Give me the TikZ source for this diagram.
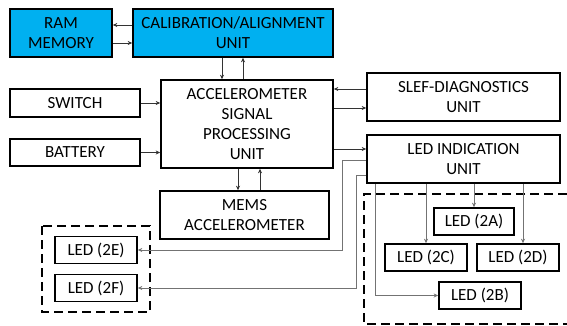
\documentclass[tikz,border=0pt]{standalone}
\usepackage{fontspec}
\setmainfont{Carlito}
\usetikzlibrary{arrows.meta}
\definecolor{calblue}{RGB}{0,176,240}
\tikzset {
  >={Stealth[length=4.5pt,width=4pt]},
  every node/.style={font=\fontsize{17}{20.2}\selectfont},
  blk/.style={draw,line width=1.6pt,align=center,inner sep=0pt},
  ledbox/.style={blk,minimum width=82pt,minimum height=27pt},
  wire/.style={line width=0.7pt,black!80},
  ledwire/.style={line width=0.7pt,black!55},
  group/.style={line width=1.6pt,dash pattern=on 9pt off 5pt},
}

\begin{document}
\begin{tikzpicture}[x=1pt,y=-1pt]
  \useasboundingbox (0,0) rectangle (567,326);
  % blocks
  \node[blk,fill=calblue,minimum width=102pt,minimum height=48pt] (ram) at (61,33) {RAM\\MEMORY};
  \node[blk,fill=calblue,minimum width=200pt,minimum height=48pt] (cal) at (233,33) {CALIBRATION/ALIGNMENT\\UNIT};
  \node[blk,minimum width=172pt,minimum height=88pt] (acc) at (247,124) {ACCELEROMETER\\SIGNAL\\PROCESSING\\UNIT};
  \node[blk,minimum width=130pt,minimum height=28pt] (sw) at (75,103) {SWITCH};
  \node[blk,minimum width=130pt,minimum height=27pt] (bat) at (75,152.5) {BATTERY};
  \node[blk,minimum width=193pt,minimum height=48pt] (diag) at (463.5,97) {SLEF-DIAGNOSTICS\\UNIT};
  \node[blk,minimum width=193pt,minimum height=48pt] (ind) at (463.5,159) {LED INDICATION\\UNIT};
  \node[blk,minimum width=169pt,minimum height=48pt] (mems) at (244.5,215) {MEMS\\ACCELEROMETER};
  % leds
  \node[ledbox] (ledE) at (96,250) {LED (2E)};
  \node[ledbox] (ledF) at (96,288) {LED (2F)};
  \node[ledbox,minimum width=80pt] (ledA) at (474,221.5) {LED (2A)};
  \node[ledbox] (ledC) at (426,257.5) {LED (2C)};
  \node[ledbox] (ledD) at (518,257.5) {LED (2D)};
  \node[ledbox] (ledB) at (480,295.5) {LED (2B)};
  % groups
  \draw[group] (42,226) rectangle (150,312);
  \draw[group] (567,194) -- (364,194) -- (364,324) -- (567,324);
  % connections
  \draw[wire,->] ([yshift=8pt]cal.west) -- ([yshift=8pt]cal.west -| ram.east);
  \draw[wire,->] ([yshift=-10pt]ram.east) -- ([yshift=-10pt]ram.east -| cal.west);
  \draw[wire,->] ([xshift=-11pt]cal.south) -- ([xshift=-11pt]cal.south |- acc.north);
  \draw[wire,->] ([xshift=10pt]cal.south |- acc.north) -- ([xshift=10pt]cal.south);
  \draw[wire,->] (sw.east) -- (sw.east -| acc.west);
  \draw[wire,->] (bat.east) -- (bat.east -| acc.west);
  \draw[wire,->] ([yshift=8pt]diag.west) -- ([yshift=8pt]diag.west -| acc.east);
  \draw[wire,->] ([yshift=-11pt]diag.west -| acc.east) -- ([yshift=-11pt]diag.west);
  \draw[wire,->] ([yshift=10pt]ind.west -| acc.east) -- ([yshift=10pt]ind.west);
  \draw[wire,->] ([xshift=-9pt]acc.south) -- ([xshift=-9pt]acc.south |- mems.north);
  \draw[wire,->] ([xshift=13pt]acc.south |- mems.north) -- ([xshift=13pt]acc.south);
  % led wiring
  \draw[ledwire,->] ([yshift=-1pt]ind.west) -- ++(-24,0) |- (ledE.east);
  \draw[ledwire,->] ([yshift=-16pt]ind.west) -- ++(-10,0) |- (ledF.east);
  \draw[ledwire,->] (ind.south -| ledA.north) -- (ledA.north);
  \draw[ledwire,->] (ind.south -| ledC.north) -- (ledC.north);
  \draw[ledwire,->] ([xshift=5pt]ind.south -| ledD.north) -- ([xshift=5pt]ledD.north);
  \draw[ledwire,->] ([xshift=-88pt]ind.south) |- (ledB.west);
\end{tikzpicture}
\end{document}
